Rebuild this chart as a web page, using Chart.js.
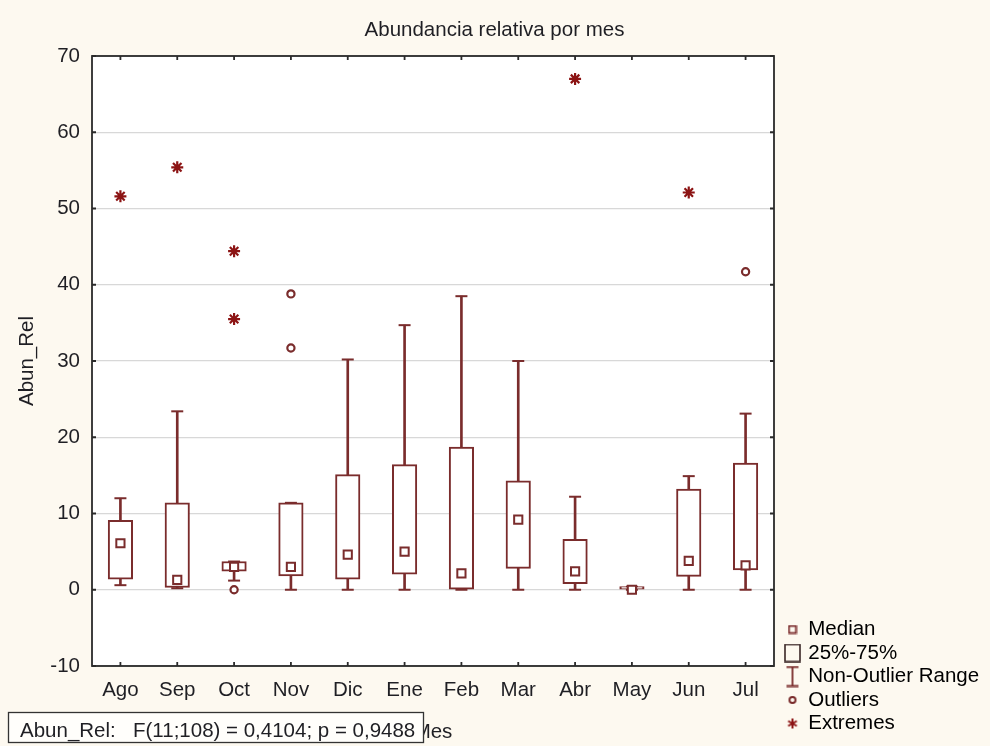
<!DOCTYPE html>
<html>
<head>
<meta charset="utf-8">
<title>Abundancia relativa por mes</title>
<script src="https://cdn.jsdelivr.net/npm/chart.js@4.4.0/dist/chart.umd.min.js"></script>
<style>
  html, body { margin: 0; padding: 0; background: #fdf9f0; }
  #wrap { width: 990px; height: 746px; }
  canvas { display: block; }
</style>
</head>
<body>
<div id="wrap"><canvas id="chart" width="990" height="746"></canvas></div>
<script>
// Monthly relative abundance (Abun_Rel), box-and-whisker summary per month
const months      = ['Ago', 'Sep', 'Oct', 'Nov', 'Dic', 'Ene', 'Feb', 'Mar', 'Abr', 'May', 'Jun', 'Jul'];
const medians     = [6.1, 1.3, 3.0, 3.0, 4.6, 5.0, 2.15, 9.2, 2.4, 0.0, 3.8, 3.2];
const q1          = [1.4, 0.3, 2.45, 1.8, 1.4, 2.05, 0.0, 2.8, 0.8, 0.0, 1.75, 2.6];
const q3          = [9.1, 11.4, 3.7, 11.4, 15.1, 16.4, 18.7, 14.3, 6.6, 0.4, 13.2, 16.6];
const whiskerLow  = [0.6, 0.2, 1.2, 0.0, 0.0, 0.0, 0.0, 0.0, 0.0, 0.0, 0.0, 0.0];
const whiskerHigh = [12.0, 23.4, 3.7, 11.4, 30.2, 34.7, 38.5, 30.0, 12.2, 0.4, 14.9, 23.1];

const outlierMonths = ['Oct', 'Nov', 'Nov', 'Jul'];
const outlierValues = [0.0, 38.8, 31.7, 41.7];
const extremeMonths = ['Ago', 'Sep', 'Oct', 'Oct', 'Abr', 'Jun'];
const extremeValues = [51.6, 55.4, 44.4, 35.5, 67.0, 52.1];

const yTickMin = -10, yTickMax = 70, yTickStep = 10;
const legendNames = ['Median', '25%-75%', 'Non-Outlier Range', 'Outliers', 'Extremes'];
const statsLabel = 'Abun_Rel:';
const statsText  = 'F(11;108) = 0,4104; p = 0,9488';

const BOX_COLOR = '#7a2c2c';
const EXT_COLOR = '#8c1414';
const TEXT_COLOR = '#1f1f24';
const FONT = '"Liberation Sans", Arial, Helvetica, sans-serif';

Chart.defaults.font.family = FONT;
Chart.defaults.font.size = 20.5;
Chart.defaults.color = TEXT_COLOR;

// small canvases used as legend symbols
function symbol(w, h, paint) {
  const c = document.createElement('canvas');
  c.width = w; c.height = h;
  paint(c.getContext('2d'));
  return c;
}
const legendSymbols = [
  symbol(10, 10, g => { g.strokeStyle = BOX_COLOR; g.lineWidth = 1.8; g.strokeRect(1.5, 1.5, 7, 7); }),
  symbol(17, 19, g => { g.strokeStyle = '#3a2626'; g.lineWidth = 1.6; g.strokeRect(1, 1, 15, 17); }),
  symbol(14, 22, g => {
    g.strokeStyle = BOX_COLOR; g.lineWidth = 1.8; g.beginPath();
    g.moveTo(1, 1.5); g.lineTo(13, 1.5);
    g.moveTo(7, 1.5); g.lineTo(7, 20.5);
    g.moveTo(1, 20.5); g.lineTo(13, 20.5);
    g.stroke();
  }),
  symbol(10, 10, g => { g.strokeStyle = BOX_COLOR; g.lineWidth = 2; g.beginPath(); g.arc(5, 5, 3, 0, Math.PI * 2); g.stroke(); }),
  symbol(12, 12, g => {
    g.strokeStyle = EXT_COLOR; g.lineWidth = 2; g.beginPath();
    for (const deg of [90, 30, 150]) {
      const r = deg * Math.PI / 180;
      g.moveTo(6 + 5 * Math.cos(r), 6 - 5 * Math.sin(r));
      g.lineTo(6 - 5 * Math.cos(r), 6 + 5 * Math.sin(r));
    }
    g.stroke();
  })
];

// white plot area, framed with inward tick marks, plus the ANOVA note box
const plotFrame = {
  id: 'plotFrame',
  beforeDraw(chart) {
    const { ctx, chartArea: a } = chart;
    ctx.save();
    ctx.fillStyle = '#ffffff';
    ctx.fillRect(a.left, a.top, a.width, a.height);
    ctx.restore();
  },
  afterDatasetsDraw(chart) {
    const { ctx, chartArea: a, scales: { x, y } } = chart;
    ctx.save();
    ctx.strokeStyle = '#2a2a2a';
    ctx.lineWidth = 1.8;
    ctx.strokeRect(a.left, a.top, a.width, a.height);
    ctx.beginPath();
    const t = 4;
    y.ticks.forEach(tk => {
      const py = y.getPixelForValue(tk.value);
      ctx.moveTo(a.left, py); ctx.lineTo(a.left + t, py);
      ctx.moveTo(a.right, py); ctx.lineTo(a.right - t, py);
    });
    x.ticks.forEach((tk, i) => {
      const px = x.getPixelForTick(i);
      ctx.moveTo(px, a.top); ctx.lineTo(px, a.top + t);
      ctx.moveTo(px, a.bottom); ctx.lineTo(px, a.bottom - t);
    });
    ctx.stroke();
    ctx.restore();
  },
  afterDraw(chart) {
    const { ctx } = chart;
    ctx.save();
    ctx.fillStyle = '#fffefb';
    ctx.fillRect(8.5, 712.5, 415, 30);
    ctx.strokeStyle = '#333';
    ctx.lineWidth = 1.3;
    ctx.strokeRect(8.5, 712.5, 415, 30);
    ctx.fillStyle = TEXT_COLOR;
    ctx.font = '20.5px ' + FONT;
    ctx.textBaseline = 'middle';
    ctx.textAlign = 'left';
    ctx.fillText(statsLabel, 20, 731);
    ctx.fillText(statsText, 133, 731);
    ctx.restore();
  }
};

const pointsOf = (ms, vs) => ms.map((m, i) => ({ x: m, y: vs[i] }));
const capPoints = months.flatMap((m, i) => [{ x: m, y: whiskerLow[i] }, { x: m, y: whiskerHigh[i] }]);

new Chart(document.getElementById('chart'), {
  data: {
    labels: months,
    datasets: [
      {
        type: 'line', label: 'Extremes', data: pointsOf(extremeMonths, extremeValues),
        showLine: false, pointStyle: 'star', pointRadius: 6,
        pointBorderColor: EXT_COLOR, pointBorderWidth: 2.2, order: 0
      },
      {
        type: 'line', label: 'Outliers', data: pointsOf(outlierMonths, outlierValues),
        showLine: false, pointStyle: 'circle', pointRadius: 3.6,
        pointBorderColor: BOX_COLOR, pointBackgroundColor: '#ffffff', pointBorderWidth: 2.2, order: 0
      },
      {
        type: 'line', label: 'Median', data: pointsOf(months, medians),
        showLine: false, pointStyle: 'rect', pointRadius: 5.8,
        pointBorderColor: BOX_COLOR, pointBackgroundColor: '#ffffff', pointBorderWidth: 2, order: 1
      },
      {
        type: 'bar', label: '25%-75%', data: months.map((m, i) => [q1[i], q3[i]]),
        backgroundColor: '#ffffff', borderColor: BOX_COLOR, borderWidth: 2,
        borderSkipped: false, barThickness: 24.5, grouped: false, order: 2
      },
      {
        type: 'line', label: 'Whisker caps', data: capPoints,
        showLine: false, pointStyle: 'line', pointRadius: 6,
        pointBorderColor: BOX_COLOR, pointBorderWidth: 2, order: 3
      },
      {
        type: 'bar', label: 'Non-Outlier Range', data: months.map((m, i) => [whiskerLow[i], whiskerHigh[i]]),
        backgroundColor: BOX_COLOR, borderWidth: 0, barThickness: 2, grouped: false, order: 4
      }
    ]
  },
  options: {
    responsive: false,
    animation: false,
    events: [],
    layout: { padding: { top: 0, left: 0, right: 1, bottom: 9.25 } },
    plugins: {
      tooltip: { enabled: false },
      title: {
        display: true,
        text: 'Abundancia relativa por mes',
        color: TEXT_COLOR,
        font: { size: 20.5, weight: 'normal' },
        padding: { top: 17.7, bottom: 13.7 }
      },
      legend: {
        display: true,
        position: 'right',
        align: 'end',
        maxWidth: 205,
        labels: {
          usePointStyle: true,
          boxWidth: 11,
          padding: 3,
          color: TEXT_COLOR,
          font: { size: 20.5 },
          generateLabels: () => legendNames.map((name, i) => ({
            text: name,
            pointStyle: legendSymbols[i],
            fillStyle: 'transparent',
            strokeStyle: 'transparent',
            lineWidth: 0,
            hidden: false,
            datasetIndex: i
          }))
        }
      }
    },
    scales: {
      x: {
        type: 'category',
        offset: true,
        grid: { display: false, drawTicks: false },
        border: { display: false },
        ticks: { padding: 11.7, color: TEXT_COLOR, maxRotation: 0, autoSkip: false },
        title: { display: true, text: 'Mes', color: TEXT_COLOR, padding: { top: 0, bottom: -7.5 } },
        afterFit: s => { s.height = 70.75; }
      },
      y: {
        min: yTickMin, max: yTickMax,
        ticks: { stepSize: yTickStep, padding: 12, color: TEXT_COLOR },
        grid: { color: '#d8d8d8', lineWidth: 1.3, drawTicks: false },
        border: { display: false },
        title: { display: true, text: 'Abun_Rel', color: TEXT_COLOR, padding: { top: 14.7, bottom: 0 } },
        afterFit: s => { s.width = 92; }
      },
      y2: {
        position: 'right',
        min: yTickMin, max: yTickMax,
        ticks: { display: false },
        grid: { display: false, drawTicks: false },
        border: { display: false },
        afterFit: s => { s.width = 10; }
      }
    }
  },
  plugins: [plotFrame]
});
</script>
</body>
</html>
